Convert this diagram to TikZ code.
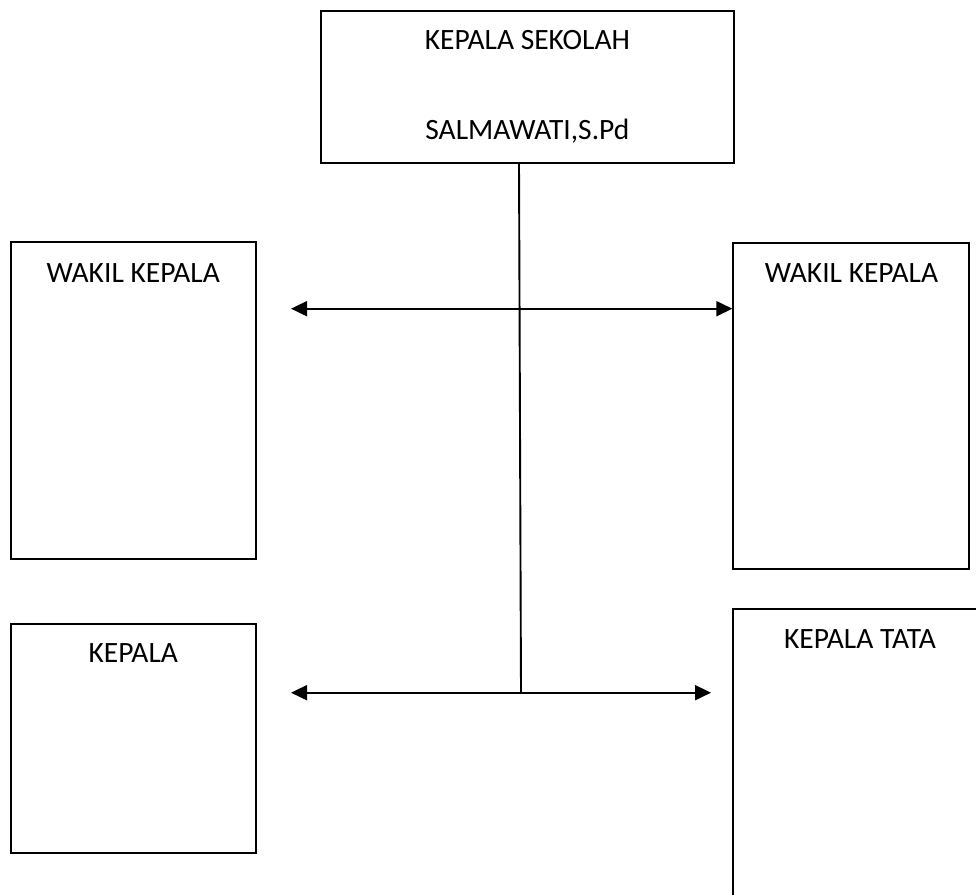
\documentclass[tikz,border=0pt]{standalone}
\usepackage{fontspec}
\setmainfont{Carlito}
\usetikzlibrary{arrows.meta}
\begin{document}
\begin{tikzpicture}[x=1pt,y=-1pt,
  box/.style={draw=black,line width=1.9pt,inner sep=0pt},
  lbl/.style={font=\fontsize{29.5}{34}\selectfont,inner sep=0pt,anchor=base},
  conn/.style={line width=1.9pt},
  dtip/.style={{Triangle[length=16pt,width=15pt]}-{Triangle[length=16pt,width=15pt]}}]
\useasboundingbox (0,0) rectangle (976,894);
\clip (0,0) rectangle (976,894);
% boxes
\node[box,minimum width=413pt,minimum height=152pt] (kepsek) at (527.4,86.7) {};
\node[lbl] at (527.4,49.5) {KEPALA SEKOLAH};
\node[lbl] at (527.4,139.5) {SALMAWATI,S.Pd};
\node[box,minimum width=245.3pt,minimum height=317pt] (wk1) at (133.3,400.8) {};
\node[lbl] at (133.3,282.5) {WAKIL KEPALA};
\node[box,minimum width=235.4pt,minimum height=326.3pt] (wk2) at (851,405.8) {};
\node[lbl] at (851.5,282.5) {WAKIL KEPALA};
\node[box,minimum width=270pt,minimum height=310pt] (kt) at (868.3,764) {};
\node[lbl] at (860,648) {KEPALA TATA};
\node[box,minimum width=245.3pt,minimum height=228.4pt] (kep) at (133.3,738.5) {};
\node[lbl] at (133.3,662.5) {KEPALA};
% connectors
\coordinate (v0) at (519,163);
\coordinate (v1) at (521,692.7);
\coordinate (a1l) at (291,308.7);
\coordinate (a1r) at (wk2.west |- a1l);
\coordinate (a2l) at (291,692.7);
\coordinate (a2r) at (711,692.7);
\draw[conn] (v0) -- (v1);
\draw[conn,dtip] (a1l) -- (a1r);
\draw[conn,dtip] (a2l) -- (a2r);
\end{tikzpicture}
\end{document}
